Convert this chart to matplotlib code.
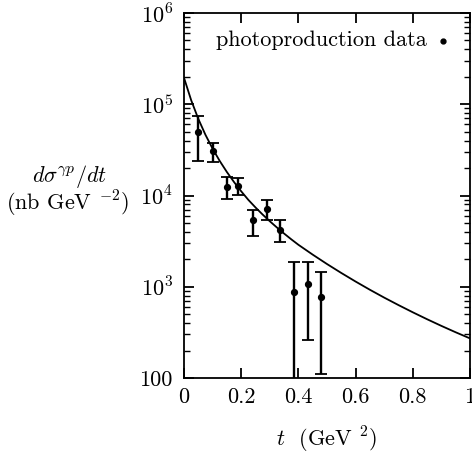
import numpy as np
import matplotlib
matplotlib.use("Agg")
import matplotlib.pyplot as plt
from matplotlib.ticker import FixedLocator, LogLocator, NullFormatter

plt.rcParams['font.family'] = 'serif'
plt.rcParams['font.serif'] = ['cmr10']
plt.rcParams['mathtext.fontset'] = 'cm'
plt.rcParams['axes.formatter.use_mathtext'] = True

# data points (photoproduction)
t_data = [0.05, 0.10, 0.15, 0.19, 0.24, 0.29, 0.335, 0.385, 0.432, 0.48]
y_data = [5.0e4, 3.05e4, 1.25e4, 1.28e4, 5.35e3, 7.2e3, 4.2e3, 880, 1080, 780]
y_hi = [7.5e4, 3.75e4, 1.6e4, 1.57e4, 7.0e3, 9.0e3, 5.4e3, 1880, 1880, 1440]
y_lo = [2.4e4, 2.33e4, 9.2e3, 1.02e4, 3.63e3, 5.4e3, 3.07e3, 50, 263, 111]

# model curve (log10 values)
t_curve = [0.0, 0.025, 0.05, 0.075, 0.1, 0.125, 0.15, 0.175, 0.2, 0.225, 0.25, 0.275,
           0.3, 0.325, 0.35, 0.375, 0.4, 0.45, 0.5, 0.55, 0.6, 0.65, 0.7, 0.75,
           0.8, 0.85, 0.9, 0.95, 1.0]
log_curve = [5.29, 5.045, 4.84, 4.665, 4.513, 4.378, 4.257, 4.147, 4.046, 3.952, 3.869, 3.791,
             3.718, 3.649, 3.583, 3.52, 3.46, 3.352, 3.249, 3.151, 3.057, 2.967, 2.881, 2.799,
             2.72, 2.644, 2.571, 2.501, 2.434]

x_ticks = [0, 0.2, 0.4, 0.6, 0.8, 1]
x_labels = ['0', '0.2', '0.4', '0.6', '0.8', '1']
y_ticks = [100, 1e3, 1e4, 1e5, 1e6]
y_labels = ['100', r'$10^3$', r'$10^4$', r'$10^5$', r'$10^6$']

fig = plt.figure(figsize=(4.72, 4.54), dpi=100)
ax = fig.add_axes([184/472, 1-378/454, (470-184)/472, (378-13)/454])

ax.plot(t_curve, 10**np.array(log_curve), color='black', lw=1.3)
y = np.array(y_data)
yerr = [y - np.array(y_lo), np.array(y_hi) - y]
ax.errorbar(t_data, y, yerr=yerr, fmt='o', color='black', ms=4.2, elinewidth=1.7,
            capsize=4, capthick=1.3)

ax.set_yscale('log')
ax.set_xlim(0, 1)
ax.set_ylim(100, 1e6)
ax.xaxis.set_major_locator(FixedLocator(x_ticks))
ax.set_xticklabels(x_labels)
ax.yaxis.set_major_locator(FixedLocator(y_ticks))
ax.set_yticklabels(y_labels)
ax.yaxis.set_minor_locator(LogLocator(base=10, subs=np.arange(2, 10)))
ax.yaxis.set_minor_formatter(NullFormatter())
ax.tick_params(which='both', direction='in', top=True, right=True, labelsize=16)
ax.tick_params(axis='y', pad=8)
ax.tick_params(axis='x', pad=7)
ax.tick_params(which='major', length=7, width=1.3)
ax.tick_params(which='minor', length=4, width=1.0)
for s in ax.spines.values():
    s.set_linewidth(1.3)

fig.text(70/472, 1-177/454, r'$d\sigma^{\gamma p}/dt$', fontsize=16, ha='center', va='center')
fig.text(67/472, 1-204/454, r'(nb GeV $^{-2}$)', fontsize=16, ha='center', va='center')
fig.text(327/472, 1-440/454, r'$t$  (GeV $^2$)', fontsize=16, ha='center', va='center')
ax.text(0.85, 0.925, 'photoproduction data', transform=ax.transAxes, fontsize=16,
        ha='right', va='center')
ax.plot([0.906], [0.923], 'o', color='black', ms=3.5, transform=ax.transAxes)

fig.savefig('out.png', dpi=100)
